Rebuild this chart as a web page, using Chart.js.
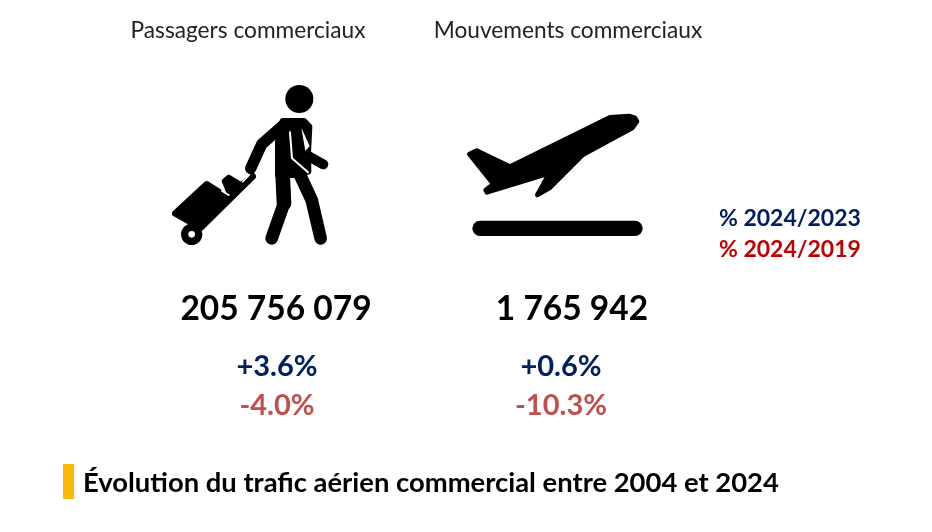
<!DOCTYPE html>
<html lang="fr">
<head>
<meta charset="utf-8">
<title>Trafic aérien commercial</title>
<script src="https://cdn.jsdelivr.net/npm/chart.js@4"></script>
<style>
    html, body { margin: 0; background: #ffffff; }
    canvas { display: block; }
</style>
</head>
<body>
<canvas id="trafic" width="932" height="532"></canvas>
<script>
// Values
const categories = ['Passagers commerciaux', 'Mouvements commerciaux'];
const totals = [205756079, 1765942];
const pct2023 = [3.6, 0.6];
const pct2019 = [-4.0, -10.3];
const legendLabels = ['% 2024/2023', '% 2024/2019'];
const footerTitle = 'Évolution du trafic aérien commercial entre 2004 et 2024';

const NAVY = '#002060';
const PINK = '#C0504D';
const DARKRED = '#C00000';
const ORANGE = '#FFB900';
const FONT = 'Lato, "Open Sans", sans-serif';

function formatTotal(v) {
    return String(v).replace(/\B(?=(\d{3})+$)/g, ' ');
}
function formatPct(v) {
    return (v > 0 ? '+' : '') + v.toFixed(1) + '%';
}

function text(ctx, str, x, y, font, color, align) {
    ctx.font = font;
    ctx.fillStyle = color;
    ctx.textAlign = align || 'center';
    ctx.textBaseline = 'middle';
    ctx.fillText(str, x, y);
}

function fillShape(ctx, points, round) {
    ctx.beginPath();
    points.forEach((p, i) => i ? ctx.lineTo(p[0], p[1]) : ctx.moveTo(p[0], p[1]));
    ctx.closePath();
    ctx.fill();
    ctx.lineWidth = round;
    ctx.stroke();
}

function strokeLine(ctx, points, width) {
    ctx.beginPath();
    points.forEach((p, i) => i ? ctx.lineTo(p[0], p[1]) : ctx.moveTo(p[0], p[1]));
    ctx.lineWidth = width;
    ctx.stroke();
}

// Traveller pictogram, drawn in a 3x grid
function drawTraveller(ctx, x, y) {
    ctx.save();
    ctx.translate(x, y);
    ctx.scale(1 / 3, 1 / 3);
    ctx.fillStyle = '#000';
    ctx.strokeStyle = '#000';
    ctx.lineJoin = 'round';
    ctx.lineCap = 'round';
    // head
    ctx.beginPath();
    ctx.arc(418, 72, 42, 0, Math.PI * 2);
    ctx.fill();
    // body
    fillShape(ctx, [[368, 138], [432, 138], [448, 155], [444, 235], [445, 290], [400, 300], [354, 300], [354, 200]], 18);
    strokeLine(ctx, [[368, 152], [305, 208], [272, 280]], 34);
    strokeLine(ctx, [[432, 170], [425, 232], [490, 268]], 30);
    strokeLine(ctx, [[368, 300], [372, 385]], 44);
    strokeLine(ctx, [[372, 385], [335, 490]], 38);
    strokeLine(ctx, [[420, 300], [455, 375], [482, 490]], 38);
    // white slits in the body
    ctx.strokeStyle = '#fff';
    strokeLine(ctx, [[390, 172], [396, 250], [444, 292]], 6);
    ctx.fillStyle = '#fff';
    ctx.beginPath();
    ctx.moveTo(424, 158);
    ctx.lineTo(449, 213);
    ctx.lineTo(436, 228);
    ctx.closePath();
    ctx.fill();
    // suitcase
    ctx.fillStyle = '#000';
    ctx.strokeStyle = '#000';
    fillShape(ctx, [[46, 415], [140, 328], [200, 366], [278, 304], [122, 458]], 20);
    fillShape(ctx, [[192, 318], [206, 306], [240, 326], [212, 366], [204, 348]], 14);
    ctx.strokeStyle = '#fff';
    strokeLine(ctx, [[186, 348], [206, 360]], 6);
    strokeLine(ctx, [[248, 320], [268, 300]], 5);
    ctx.fillStyle = '#000';
    ctx.beginPath();
    ctx.arc(95, 478, 32, 0, Math.PI * 2);
    ctx.fill();
    ctx.fillStyle = '#fff';
    ctx.beginPath();
    ctx.arc(95, 478, 10, 0, Math.PI * 2);
    ctx.fill();
    ctx.restore();
}

// Take-off pictogram, drawn in a 3x grid
function drawPlane(ctx, x, y) {
    ctx.save();
    ctx.translate(x, y);
    ctx.scale(1 / 3, 1 / 3);
    ctx.fillStyle = '#000';
    ctx.strokeStyle = '#000';
    ctx.lineJoin = 'round';
    ctx.lineCap = 'round';
    fillShape(ctx, [[546, 64], [540, 54], [522, 48], [465, 52], [165, 200], [65, 152], [43, 162], [115, 252], [92, 270], [96, 277],
        [283, 220], [247, 285], [285, 263], [384, 164], [532, 84]], 14);
    strokeLine(ctx, [[75, 385], [540, 385]], 46);
    ctx.restore();
}

const infographicPlugin = {
    id: 'infographic',
    afterDraw(chart) {
        const ctx = chart.ctx;
        const xs = chart.scales.x;
        const col = (i) => xs.getPixelForValue(i);
        const d = chart.data.datasets;

        ctx.save();
        // column headers
        text(ctx, categories[0], col(0) - 28, 31, '22.7px ' + FONT, '#222');
        text(ctx, categories[1], col(1) - 4, 31, '22.7px ' + FONT, '#222');
        // pictograms
        drawTraveller(ctx, 160, 75);
        drawPlane(ctx, 455, 100);
        // totals and percentages
        const pctShift = [1, -11];
        categories.forEach((c, i) => {
            text(ctx, formatTotal(d[0].data[i]), col(i), 309, 'bold 33.5px ' + FONT, '#000');
            text(ctx, formatPct(d[1].data[i]), col(i) + pctShift[i], 367, 'bold 29px ' + FONT, NAVY);
            text(ctx, formatPct(d[2].data[i]), col(i) + pctShift[i], 406, 'bold 29px ' + FONT, PINK);
        });
        // legend
        text(ctx, legendLabels[0], 719, 219, 'bold 23px ' + FONT, NAVY, 'left');
        text(ctx, legendLabels[1], 719, 250, 'bold 23px ' + FONT, DARKRED, 'left');
        // footer
        ctx.fillStyle = ORANGE;
        ctx.fillRect(63, 464, 11, 35);
        text(ctx, footerTitle, 83, 483, 'bold 27.4px ' + FONT, '#000', 'left');
        ctx.restore();
    }
};

new Chart(document.getElementById('trafic').getContext('2d'), {
    type: 'line',
    data: {
        labels: categories,
        datasets: [
            { label: 'Total', data: totals, showLine: false, pointRadius: 0 },
            { label: legendLabels[0], data: pct2023, showLine: false, pointRadius: 0, borderColor: NAVY },
            { label: legendLabels[1], data: pct2019, showLine: false, pointRadius: 0, borderColor: PINK }
        ]
    },
    options: {
        responsive: false,
        animation: false,
        layout: { padding: { left: 128, right: 212 } },
        plugins: { legend: { display: false }, tooltip: { enabled: false } },
        scales: {
            x: { display: false, offset: true },
            y: { display: false }
        }
    },
    plugins: [infographicPlugin]
});
</script>
</body>
</html>
